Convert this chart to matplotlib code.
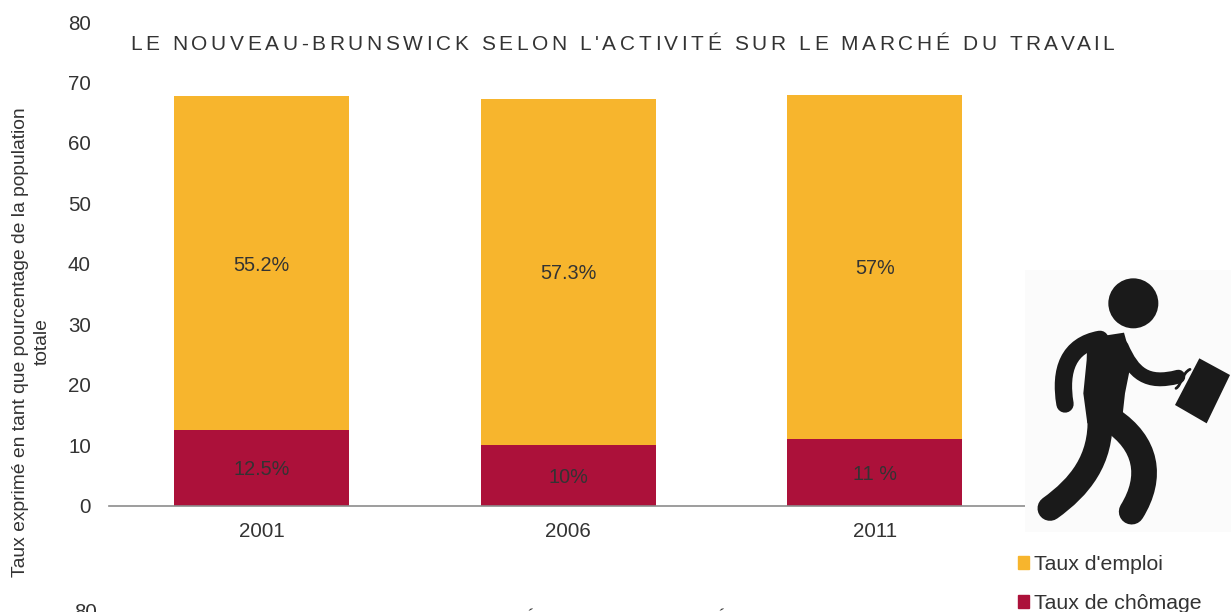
import matplotlib
matplotlib.use("Agg")
import matplotlib.pyplot as plt
from matplotlib.patches import Circle, Polygon, Rectangle, Patch, PathPatch
from matplotlib.path import Path
from matplotlib.text import Text
from matplotlib.transforms import Bbox, IdentityTransform

plt.rcParams['font.family'] = ['Liberation Sans', 'DejaVu Sans']

years = ['2001', '2006', '2011']
chomage = [12.5, 10, 11]
emploi = [55.2, 57.3, 57]
chomage_labels = ['12.5%', '10%', '11 %']
emploi_labels = ['55.2%', '57.3%', '57%']
yticks = [0, 10, 20, 30, 40, 50, 60, 70, 80]
title = "LE NOUVEAU-BRUNSWICK SELON L'ACTIVITÉ SUR LE MARCHÉ DU TRAVAIL"
next_title = "L'ACTIVITÉ SUR LE MARCHÉ DU TRAVAIL"
ylabel = "Taux exprimé en tant que pourcentage de la population\ntotale"
GOLD, RED, INK = '#F7B52D', '#AC113A', '#333333'
W, H = 1231, 612


class SpacedText(Text):
    """One text artist, drawn left-aligned with extra space between its letters."""

    def __init__(self, x, y, s, spacing, **kw):
        super().__init__(x, y, s, ha='left', va='baseline', **kw)
        self.spacing = spacing

    def _offsets(self, renderer):
        s = self.get_text()
        fp = self.get_fontproperties()
        out = []
        for i in range(len(s) + 1):
            w = renderer.get_text_width_height_descent(s[:i], fp, False)[0] if i else 0
            out.append(w + i * self.spacing)
        return out

    def draw(self, renderer):
        x0, y0 = self.get_transform().transform(self.get_position())
        offs = self._offsets(renderer)
        for ch, dx in zip(self.get_text(), offs):
            t = Text(x0 + dx, y0, ch, ha='left', va='baseline', color=self.get_color(),
                     fontproperties=self.get_fontproperties(), transform=IdentityTransform())
            t.set_figure(self.get_figure())
            t.draw(renderer)

    def get_window_extent(self, renderer=None, dpi=None):
        if renderer is None:
            renderer = self.get_figure().canvas.get_renderer()
        x0, y0 = self.get_transform().transform(self.get_position())
        h = self.get_fontproperties().get_size_in_points() * 100 / 72
        return Bbox([[x0, y0 - 0.2 * h], [x0 + self._offsets(renderer)[-1], y0 + 0.8 * h]])


fig = plt.figure(figsize=(W / 100, H / 100), dpi=100, facecolor='white')
ax = fig.add_axes([108.5 / W, 1 - 505.5 / H, 919.5 / W, 483.5 / H])
x = range(len(years))
b1 = ax.bar(x, chomage, width=0.57, color=RED, label='Taux de chômage')
b2 = ax.bar(x, emploi, width=0.57, bottom=chomage, color=GOLD, label="Taux d'emploi")
for bars, labs in ((b1, chomage_labels), (b2, emploi_labels)):
    for t in ax.bar_label(bars, labels=labs, label_type='center', fontsize=14.3, color=INK):
        t.xyann = (0, -1.4)
ax.set_xlim(-0.5, 2.5)
ax.set_ylim(0, 80)
ax.set_xticks(list(x), years, fontsize=14.8, color=INK)
ax.set_yticks(yticks, [str(v) for v in yticks], fontsize=14.8, color=INK)
ax.tick_params(length=0)
ax.tick_params(axis='x', pad=11.6)
ax.tick_params(axis='y', pad=12.6)
for s in ('top', 'right', 'left'):
    ax.spines[s].set_visible(False)
ax.spines['bottom'].set_color('#8c8c8c')
ax.spines['bottom'].set_linewidth(1.2)

# overlay in pixel coordinates for the title, labels and pictogram
ov = fig.add_axes([0, 0, 1, 1], facecolor='none')
ov.set_xlim(0, W)
ov.set_ylim(H, 0)
ov.axis('off')
ov.add_artist(SpacedText(130, 50, title, 3.6, fontsize=15, color=INK, transform=ov.transData))
ov.text(31.5, 342, ylabel, rotation=90, ha='center', va='center', ma='center',
        fontsize=13.85, color=INK, linespacing=1.42)

# pictogram, in coordinates of a 3x crop starting at (1000, 260)
ov.add_patch(Rectangle((1025, 270), 206, 262, color='#FBFBFB', lw=0))
K = '#1a1a1a'
def P(a, b):
    return (1000 + a / 3, 260 + b / 3)
def limb(pts, lw):
    codes = [Path.MOVETO] + [Path.CURVE4] * (len(pts) - 1)
    ov.add_patch(PathPatch(Path([P(*p) for p in pts], codes), fc='none', ec=K, lw=lw,
                           capstyle='round', joinstyle='round'))
ov.add_patch(Circle(P(400, 130), 25, color=K, lw=0))
ov.add_patch(Polygon([P(*p) for p in [(262, 235), (372, 218), (395, 300), (375, 400), (365, 490),
                                      (262, 490), (250, 400), (260, 300)]], color=K, lw=0))
limb([(195, 432), (178, 330), (205, 255), (300, 238)], 12.5)
limb([(365, 260), (400, 340), (440, 375), (535, 350)], 10)
limb([(300, 470), (305, 600), (240, 680), (150, 745)], 18)
limb([(335, 480), (440, 550), (460, 650), (395, 755)], 18.5)
ov.add_patch(Polygon([P(*p) for p in [(598, 295), (690, 345), (620, 490), (525, 435)]], color=K, lw=0))
limb([(528, 385), (545, 375), (545, 340), (570, 328)], 2)

# legend
h = [Patch(color=GOLD), Patch(color=RED)]
ov.legend(h, ["Taux d'emploi", 'Taux de chômage'], loc='upper left',
          bbox_to_anchor=(1018 / W, 1 - 555 / H), frameon=False, fontsize=15.3,
          handlelength=0.52, handleheight=0.52, handletextpad=0.22, labelspacing=0.95,
          labelcolor=INK, borderpad=0, borderaxespad=0)

# start of the next chart, cut by the page edge
ov.text(86, 613, '80', ha='center', va='center', fontsize=14.8, color=INK)
ov.add_artist(SpacedText(418, 626, next_title, 0.95, fontsize=15, color=INK, transform=ov.transData))

fig.savefig('out.png', dpi=100)
